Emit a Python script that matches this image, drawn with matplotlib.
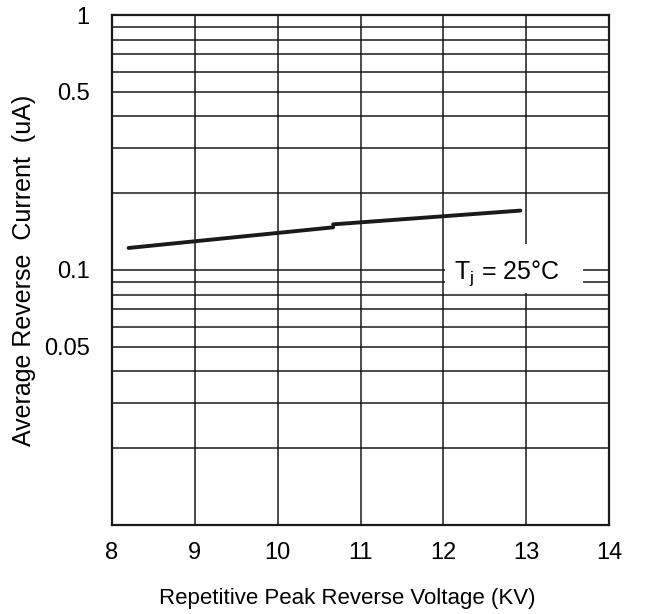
import matplotlib
matplotlib.use('Agg')
import matplotlib.pyplot as plt
from matplotlib.patches import Rectangle
from matplotlib.ticker import LogLocator, NullFormatter, FixedLocator, FixedFormatter

plt.rcParams['font.family'] = ['Liberation Sans', 'DejaVu Sans']
plt.rcParams['mathtext.fontset'] = 'custom'
plt.rcParams['mathtext.rm'] = 'Liberation Sans'

# curve (two pieces with a small step near 10.7 KV)
volt_a = [8.2, 10.67]
curr_a = [0.122, 0.147]
volt_b = [10.67, 12.93]
curr_b = [0.151, 0.171]

x_ticks = [8, 9, 10, 11, 12, 13, 14]
y_ticks = [1, 0.5, 0.1, 0.05]
y_tick_labels = ['1', '0.5', '0.1', '0.05']

fig = plt.figure(figsize=(6.54, 6.14), dpi=100)
ax = fig.add_axes([112/654, 1-525/614, (609-112)/654, (525-15)/614])

ax.set_yscale('log')
ax.set_xlim(8, 14)
ax.set_ylim(0.01, 1)

ax.xaxis.set_major_locator(FixedLocator(x_ticks))
ax.yaxis.set_major_locator(FixedLocator(y_ticks))
ax.yaxis.set_major_formatter(FixedFormatter(y_tick_labels))
ax.yaxis.set_minor_locator(LogLocator(base=10, subs=range(2, 10)))
ax.yaxis.set_minor_formatter(NullFormatter())

# grid: integers on x, every 1..9 on the log y axis
for v in x_ticks[1:-1]:
    ax.axvline(v, color='#1a1a1a', lw=1.1, zorder=1)
for dec in [0.01, 0.1]:
    for k in range(2, 10):
        ax.axhline(dec*k, color='#1a1a1a', lw=1.1, zorder=1)
ax.axhline(0.1, color='#1a1a1a', lw=1.1, zorder=1)

ax.tick_params(axis='both', which='both', length=0, labelsize=17)
ax.tick_params(axis='y', pad=16)
ax.tick_params(axis='x', pad=12)

for s in ax.spines.values():
    s.set_linewidth(1.6)
    s.set_color('#1a1a1a')

ax.plot(volt_a, curr_a, color='#1a1a1a', lw=2.8, solid_capstyle='round', zorder=3)
ax.plot(volt_b, curr_b, color='#1a1a1a', lw=2.8, solid_capstyle='round', zorder=3)

# white box behind the label
ax.add_patch(Rectangle((12.02, 0.0815), 1.67, 0.1266-0.0815,
                       facecolor='white', edgecolor='none', zorder=2))
ax.text(12.76, 0.0976, r'T$_\mathregular{j}$ = 25°C', fontsize=18,
        ha='center', va='center', zorder=4)

ax.set_xlabel('Repetitive Peak Reverse Voltage (KV)', fontsize=16)
ax.xaxis.set_label_coords(0.473, -0.123)
ax.set_ylabel('Average Reverse  Current  (uA)', fontsize=18)
ax.yaxis.set_label_coords(-0.152, 0.5)

fig.savefig('out.png', dpi=100)
